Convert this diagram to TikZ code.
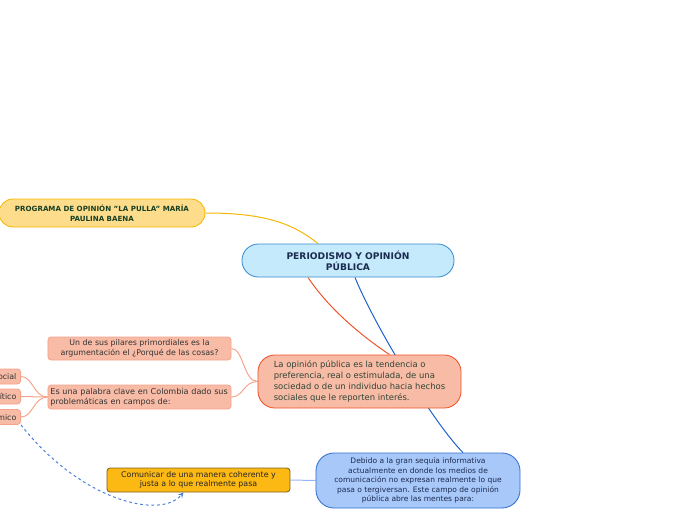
\documentclass[tikz,border=0pt]{standalone}
\usepackage{fontspec}
\setmainfont{DejaVu Sans}
\usepackage{tikz}
\usetikzlibrary{calc,backgrounds}

\definecolor{yelfill}{HTML}{FDDD8C}
\definecolor{yelline}{HTML}{F5B700}
\definecolor{rootfill}{HTML}{C5EAFB}
\definecolor{rootline}{HTML}{3C8CCF}
\definecolor{salfill}{HTML}{F8BBA6}
\definecolor{salline}{HTML}{F0532A}
\definecolor{leafline}{HTML}{F5A48C}
\definecolor{bluefill}{HTML}{A8C8FA}
\definecolor{blueline}{HTML}{1B5FCE}
\definecolor{orafill}{HTML}{FCB813}
\definecolor{oraline}{HTML}{7A6520}
\definecolor{navytext}{HTML}{1B2B4F}
\definecolor{greentext}{HTML}{173F22}
\definecolor{graytext}{HTML}{2E4435}

\tikzset{
  bubble/.style={draw, line width=0.6pt, inner sep=0pt, align=center},
  leaf/.style={bubble, fill=salfill, draw=leafline, rounded corners=0.08cm,
    font=\fontsize{5.6}{6.8}\selectfont, text=black!80},
  link/.style={line width=0.7pt}
}

\begin{document}
\begin{tikzpicture}[x=0.025cm, y=-0.025cm, >=stealth]
    \useasboundingbox (0,0) rectangle (696,520);
    % main topics
    \node[bubble, fill=rootfill, draw=rootline, rounded corners=0.41cm,
      minimum width=5.3cm, minimum height=0.825cm, text=navytext,
      font=\bfseries\fontsize{6.5}{7.6}\selectfont] (root) at (348,260.5)
      {PERIODISMO Y OPINIÓN\hspace{1.2em}\\ PÚBLICA};
    \node[bubble, fill=yelfill, draw=yelline, rounded corners=0.35cm,
      minimum width=5.15cm, minimum height=0.7cm, text=greentext,
      font=\bfseries\fontsize{5.05}{7}\selectfont] (pulla) at (102,213)
      {PROGRAMA DE OPINIÓN "LA PULLA" MARÍA\\ PAULINA BAENA};
    \node[bubble, fill=salfill, draw=salline, rounded corners=0.42cm,
      minimum width=5.075cm, minimum height=1.325cm, text=graytext, align=left,
      font=\fontsize{6}{7.6}\selectfont] (opinion) at (359.5,381.5)
      {La opinión pública es la tendencia o\\ preferencia, real o estimulada, de una\\
       sociedad o de un individuo hacia hechos\\ sociales que le reporten interés.};
    \node[bubble, fill=bluefill, draw=blueline!90, rounded corners=0.45cm,
      minimum width=5.1cm, minimum height=1.375cm, text=navytext,
      font=\fontsize{5.35}{6.7}\selectfont] (sequia) at (418,480.5)
      {Debido a la gran sequía informativa\\ actualmente en donde los medios de\\
       comunicación no expresan realmente lo que\\ pasa o tergiversan. Este campo de opinión\\
       pública abre las mentes para:};
    % sub topics
    \node[bubble, fill=orafill, draw=oraline, rounded corners=0.08cm,
      minimum width=4.575cm, minimum height=0.6cm, text=black!85,
      font=\fontsize{5.6}{6.8}\selectfont] (comunicar) at (198.5,480)
      {Comunicar de una manera coherente y\\ justa a lo que realmente pasa};
    \node[leaf, minimum width=4.575cm, minimum height=0.575cm] (pilares) at (139.5,348.5)
      {Un de sus pilares primordiales es la\\ argumentación el ¿Porqué de las cosas?};
    \node[leaf, minimum width=4.575cm, minimum height=0.6cm, align=left, text width=4.45cm,
      font=\fontsize{5.75}{6.8}\selectfont] (clave) at (139.5,397)
      {Es una palabra clave en Colombia dado sus\\ problemáticas en campos de:};
    \node[leaf, minimum height=0.375cm, inner xsep=3pt, anchor=east] (social) at (21,376.5) {Social};
    \node[leaf, minimum height=0.375cm, inner xsep=3pt, anchor=east] (politico) at (21,396.5) {Político};
    \node[leaf, minimum height=0.375cm, inner xsep=3pt, anchor=east] (economico) at (21,417) {Económico};
    % connectors
    \begin{scope}[on background layer]
        \draw[link, yelline] (pulla.east) .. controls +(60,0) and +(-25,-20) .. ($(root.north)+(-30,0)$);
        \draw[link, salline] ($(root.south)+(-40,0)$) .. controls +(20,30) and +(-30,-20) .. ($(opinion.north)+(30,0)$);
        \draw[link, blueline] ($(root.south)+(7,0)$) .. controls +(18,45) and +(-30,-30) .. ($(sequia.north)+(45,0)$);
        \draw[link, leafline] (opinion.west) .. controls +(-14,0) and +(12,0) .. (pilares.east);
        \draw[link, leafline] (opinion.west) .. controls +(-14,0) and +(12,0) .. (clave.east);
        \draw[link, leafline] (clave.west) .. controls +(-14,0) and +(12,0) .. (social.east);
        \draw[link, leafline] (clave.west) .. controls +(-14,0) and +(12,0) .. (politico.east);
        \draw[link, leafline] (clave.west) .. controls +(-14,0) and +(12,0) .. (economico.east);
        \draw[link, bluefill!90!blue] (sequia.west) -- (comunicar.east);
    \end{scope}
    \draw[link, blueline!80, dashed, dash pattern=on 2pt off 2pt, ->]
      (economico.south east) .. controls (80,500) and (160,520) .. ($(comunicar.south)+(-15,0)$);
\end{tikzpicture}
\end{document}
